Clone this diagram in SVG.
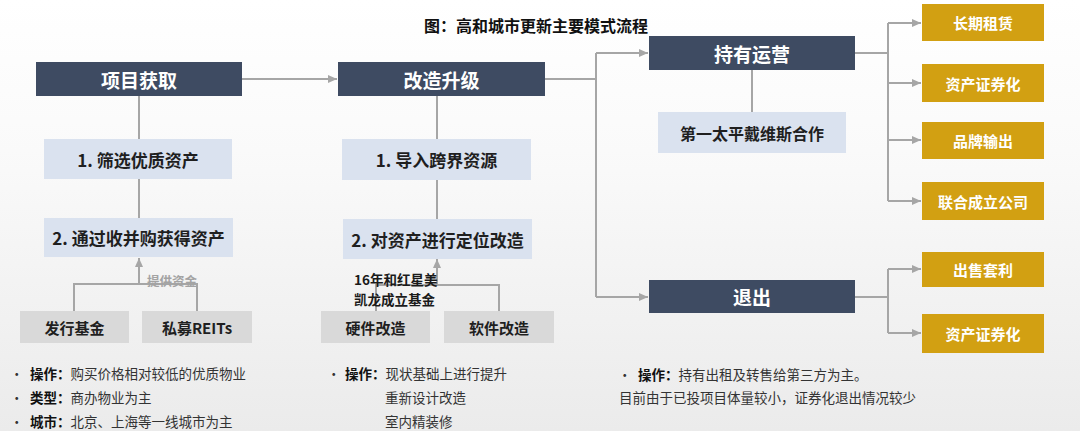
<svg xmlns="http://www.w3.org/2000/svg" width="1080" height="431" viewBox="0 0 1080 431">
<defs>
<linearGradient id="bg" x1="0" y1="0" x2="0" y2="1">
<stop offset="0" stop-color="#ffffff"/>
<stop offset="0.35" stop-color="#fafafa"/>
<stop offset="1" stop-color="#ebebeb"/>
</linearGradient>
<marker id="arr" markerUnits="userSpaceOnUse" markerWidth="10" markerHeight="10" refX="9" refY="5" orient="auto">
<path d="M0,1 L9,5 L0,9 Z" fill="#a6a6a6"/>
</marker>
</defs>
<style>
text{font-family:"Noto Sans CJK SC","Noto Sans",sans-serif;dominant-baseline:central}
.dark{fill:#3e4b62}
.light{fill:#dae2ef}
.grey{fill:#d9d9d9}
.gold{fill:#d2a012}
.wt{fill:#ffffff;font-weight:bold;font-size:19px;text-anchor:middle}
.gt{fill:#ffffff;font-weight:bold;font-size:15px;text-anchor:middle}
.lt{fill:#1f1f1f;font-weight:bold;font-size:17px;text-anchor:middle}
.st{fill:#1f1f1f;font-weight:bold;font-size:15px;text-anchor:middle}
.note{fill:#333333;font-size:13.5px}
.b{font-weight:bold;fill:#111111}
.hx{font-size:13.5px;font-weight:bold;fill:#1a1a1a}
.conn path{fill:none;stroke:#a6a6a6;stroke-width:2}
</style>
<rect x="0" y="0" width="1080" height="431" fill="url(#bg)"/>
<text x="536" y="25" style="font-size:16px;font-weight:bold;fill:#111111;text-anchor:middle">图：高和城市更新主要模式流程</text>

<g class="conn" id="connectors">
<path d="M242,79 H337" marker-end="url(#arr)"/>
<path d="M139,96 V139"/>
<path d="M139,179 V218"/>
<path d="M74,311 V284 H197 V311"/>
<path d="M139,284 V258" marker-end="url(#arr)"/>
<path d="M437,96 V139"/>
<path d="M437,180 V219"/>
<path d="M376,311 V285 H499 V311"/>
<path d="M437,285 V259" marker-end="url(#arr)"/>
<path d="M545,79 H596"/>
<path d="M596,53 V297"/>
<path d="M596,53 H648" marker-end="url(#arr)"/>
<path d="M596,297 H648" marker-end="url(#arr)"/>
<path d="M752,70 V112"/>
<path d="M855,53 H888"/>
<path d="M888,23 V201"/>
<path d="M888,23 H921" marker-end="url(#arr)"/>
<path d="M888,83 H921" marker-end="url(#arr)"/>
<path d="M888,140 H921" marker-end="url(#arr)"/>
<path d="M888,201 H921" marker-end="url(#arr)"/>
<path d="M855,297 H888"/>
<path d="M888,269 V333"/>
<path d="M888,269 H921" marker-end="url(#arr)"/>
<path d="M888,333 H921" marker-end="url(#arr)"/>
</g>

<g id="label-fund">
<text x="172" y="280" style="font-size:12.5px;font-weight:bold;fill:#a3a3a3;text-anchor:middle">提供资金</text>
</g>
<g id="label-hongxing">
<text class="hx" x="354" y="278.5">16年和红星美</text>
<text class="hx" x="354" y="298.5">凯龙成立基金</text>
</g>

<g id="node-xmhq"><rect class="dark" x="36" y="62" width="206" height="34"/><text class="wt" x="139" y="79">项目获取</text></g>
<g id="node-sxyz"><rect class="light" x="44" y="139" width="188" height="40"/><text class="lt" x="138" y="159">1. 筛选优质资产</text></g>
<g id="node-tgsb"><rect class="light" x="44" y="218" width="189" height="39"/><text class="lt" x="138.5" y="237.5">2. 通过收并购获得资产</text></g>
<g id="node-fxjj"><rect class="grey" x="20" y="311" width="109" height="32"/><text class="st" x="74.5" y="327">发行基金</text></g>
<g id="node-smreits"><rect class="grey" x="142" y="311" width="110" height="32"/><text class="st" x="197" y="327">私募REITs</text></g>

<g id="node-gzsj"><rect class="dark" x="338" y="62" width="207" height="34"/><text class="wt" x="441.5" y="79">改造升级</text></g>
<g id="node-drkj"><rect class="light" x="342" y="139" width="189" height="41"/><text class="lt" x="436.5" y="159.5">1. 导入跨界资源</text></g>
<g id="node-dwgz"><rect class="light" x="343" y="219" width="189" height="40"/><text class="lt" x="437.5" y="239">2. 对资产进行定位改造</text></g>
<g id="node-yjgz"><rect class="grey" x="321" y="311" width="109" height="32"/><text class="st" x="375.5" y="327">硬件改造</text></g>
<g id="node-rjgz"><rect class="grey" x="444" y="311" width="110" height="32"/><text class="st" x="499" y="327">软件改造</text></g>

<g id="node-cyyy"><rect class="dark" x="649" y="36" width="206" height="34"/><text class="wt" x="752" y="53">持有运营</text></g>
<g id="node-dytp"><rect class="light" x="658" y="112" width="188" height="41"/><text class="lt" x="752" y="132.5" style="font-size:16px">第一太平戴维斯合作</text></g>
<g id="node-tc"><rect class="dark" x="649" y="280" width="206" height="33"/><text class="wt" x="752" y="296.5">退出</text></g>

<g id="node-cqzl"><rect class="gold" x="922" y="4" width="122" height="37"/><text class="gt" x="983" y="22.5">长期租赁</text></g>
<g id="node-zczqh1"><rect class="gold" x="922" y="64" width="122" height="38"/><text class="gt" x="983" y="83">资产证券化</text></g>
<g id="node-ppsc"><rect class="gold" x="922" y="122" width="122" height="37"/><text class="gt" x="983" y="140.5">品牌输出</text></g>
<g id="node-lhcl"><rect class="gold" x="922" y="182" width="122" height="38"/><text class="gt" x="983" y="201">联合成立公司</text></g>
<g id="node-csty"><rect class="gold" x="922" y="252" width="122" height="35"/><text class="gt" x="983" y="269.5">出售套利</text></g>
<g id="node-zczqh2"><rect class="gold" x="922" y="314" width="122" height="39"/><text class="gt" x="983" y="333.5">资产证券化</text></g>

<g id="notes-left" class="note">
<text x="10" y="373">•</text>
<text x="30" y="373"><tspan class="b">操作：</tspan>购买价格相对较低的优质物业</text>
<text x="10" y="397">•</text>
<text x="30" y="397"><tspan class="b">类型：</tspan>商办物业为主</text>
<text x="10" y="421">•</text>
<text x="30" y="421"><tspan class="b">城市：</tspan>北京、上海等一线城市为主</text>
</g>
<g id="notes-mid" class="note">
<text x="327" y="373">•</text>
<text x="345" y="373"><tspan class="b">操作：</tspan>现状基础上进行提升</text>
<text x="385" y="397">重新设计改造</text>
<text x="385" y="421">室内精装修</text>
</g>
<g id="notes-right" class="note">
<text x="618" y="374">•</text>
<text x="638" y="374"><tspan class="b">操作：</tspan>持有出租及转售给第三方为主。</text>
<text x="619" y="397">目前由于已投项目体量较小，证券化退出情况较少</text>
</g>
</svg>
